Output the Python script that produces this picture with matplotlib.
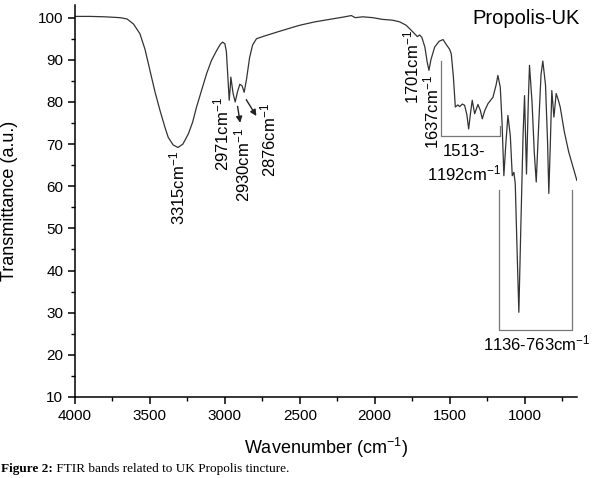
import matplotlib
matplotlib.use('Agg')
import matplotlib.pyplot as plt
from matplotlib.ticker import MultipleLocator

plt.rcParams['font.family'] = ['Liberation Sans', 'DejaVu Sans']
plt.rcParams['mathtext.default'] = 'regular'

# FTIR spectrum (wavenumber cm-1, transmittance a.u.)
wavenumber = [4000, 3900, 3800, 3700, 3653, 3610, 3567, 3533, 3500, 3467, 3433, 3400, 3378, 3345,
              3313, 3280, 3244, 3215, 3189, 3155, 3122, 3090, 3055, 3030, 3015, 3000, 2990,
              2980, 2971, 2965, 2960, 2945, 2931, 2915, 2900, 2885, 2871, 2855, 2835, 2815,
              2789, 2740, 2650, 2567, 2500, 2400, 2300, 2200, 2156, 2130, 2080, 2013, 1950,
              1880, 1833, 1790, 1745, 1715, 1700, 1685, 1665, 1650, 1638, 1625, 1600, 1570,
              1544, 1520, 1500, 1489, 1475, 1462, 1445, 1433, 1415, 1400, 1385, 1373, 1360,
              1349, 1333, 1320, 1311, 1295, 1282, 1265, 1244, 1211, 1190, 1178, 1162, 1150,
              1138, 1125, 1111, 1095, 1082, 1071, 1062, 1050, 1038, 1025, 1010, 1000, 987,
              975, 967, 950, 935, 922, 905, 890, 878, 860, 846, 838, 828, 818, 804, 789,
              775, 762, 735, 705, 680, 651]
transmittance = [100.3, 100.3, 100.2, 100.0, 99.7, 98.5, 96.2, 92.5, 87.5, 82.5, 78.0, 74.0, 71.6, 69.8,
                 69.2, 70.0, 72.4, 75.2, 78.8, 82.8, 86.7, 89.8, 92.2, 93.7, 94.2, 93.8, 92.0,
                 86.0, 80.4, 83.0, 85.9, 82.0, 80.0, 82.5, 84.2, 83.8, 82.3, 85.5, 90.5, 93.5,
                 95.0, 95.6, 96.6, 97.5, 98.2, 99.0, 99.6, 100.2, 100.5, 100.0, 100.2, 100.0, 99.6,
                 99.4, 99.0, 98.2, 96.6, 95.5, 95.9, 95.3, 93.0, 89.5, 87.5, 90.0, 93.0, 94.4,
                 94.8, 93.5, 92.5, 91.4, 86.0, 78.8, 79.3, 78.9, 79.5, 79.2, 77.0, 73.6, 77.5,
                 80.4, 77.2, 78.5, 79.4, 78.0, 76.0, 78.0, 79.6, 81.1, 84.0, 86.3, 83.5, 75.0,
                 62.5, 70.0, 76.8, 72.0, 62.5, 63.3, 60.6, 45.0, 30.1, 50.0, 72.0, 81.5, 62.9,
                 80.0, 88.7, 80.0, 68.0, 61.0, 75.0, 86.5, 89.7, 84.0, 70.0, 58.3, 70.0, 82.7, 76.4, 82.0,
                 80.5, 78.8, 73.0, 68.1, 65.0, 61.4]

fig = plt.figure(figsize=(5.93, 4.78), dpi=100)
ax = fig.add_axes([0.1265, 0.1695, 0.8465, 0.82])
ax.plot(wavenumber, transmittance, color='#333333', lw=0.9)

ax.set_xlim(4000, 650)
ax.set_ylim(10, 103)
ax.xaxis.set_major_locator(MultipleLocator(500))
ax.xaxis.set_minor_locator(MultipleLocator(250))
ax.yaxis.set_major_locator(MultipleLocator(10))
ax.yaxis.set_minor_locator(MultipleLocator(5))
ax.set_yticks(range(10, 101, 10))
ax.spines['top'].set_visible(False)
ax.spines['right'].set_visible(False)
for s in ['left', 'bottom']:
    ax.spines[s].set_linewidth(1.1)
ax.tick_params(which='major', direction='out', length=5, width=1.1, labelsize=11)
ax.tick_params(which='minor', direction='out', length=3, width=1.0)

ax.set_xlabel('Wavenumber (cm$^{-1}$)', fontsize=13)
ax.set_ylabel('Transmittance (a.u.)', fontsize=13)
ax.xaxis.set_label_coords(0.5, -0.1)
ax.yaxis.set_label_coords(-0.113, 0.5)

# band annotations
fs = 12
ax.text(3315, 59.5, '3315cm$^{-1}$', rotation=90, ha='center', va='center', fontsize=fs)
ax.text(3022, 72.3, '2971cm$^{-1}$', rotation=90, ha='center', va='center', fontsize=fs)
ax.text(2882, 65.1, '2930cm$^{-1}$', rotation=90, ha='center', va='center', fontsize=fs)
ax.text(2711, 70.9, '2876cm$^{-1}$', rotation=90, ha='center', va='center', fontsize=fs)
ax.annotate('', xy=(2895, 74.4), xytext=(2918, 79.6),
            arrowprops=dict(arrowstyle='-|>', color='#222222', lw=1.0, mutation_scale=9))
ax.annotate('', xy=(2780, 76.1), xytext=(2867, 81.1),
            arrowprops=dict(arrowstyle='-|>', color='#222222', lw=1.0, mutation_scale=9))
ax.text(1756, 88.3, '1701cm$^{-1}$', rotation=90, ha='center', va='center', fontsize=fs)
ax.text(1622, 77.5, '1637cm$^{-1}$', rotation=90, ha='center', va='center', fontsize=fs)
ax.text(1405, 65.3, '1513-\n1192cm$^{-1}$', ha='center', va='center', fontsize=fs,
        linespacing=1.25)
ax.text(917, 22.6, '1136-763cm$^{-1}$', ha='center', va='center', fontsize=fs)
ax.text(993, 99.8, 'Propolis-UK', ha='center', va='center', fontsize=14.5)

# brackets
ax.plot([1556, 1556, 1167, 1167], [89.8, 72.0, 72.0, 74.2], color='#777777', lw=0.9)
ax.plot([1171, 1171, 683, 683], [59.0, 25.9, 25.9, 59.0], color='#777777', lw=0.9)

cap = fig.text(0.002, 0.012, 'Figure 2:', fontsize=9.5, family='Liberation Serif',
               fontweight='bold', va='baseline')
fig.text(0, 0, ' FTIR bands related to UK Propolis tincture.', fontsize=9.5,
         family='Liberation Serif', va='baseline',
         transform=matplotlib.transforms.offset_copy(fig.transFigure, fig=fig, x=0, y=0))
fig.canvas.draw()
bb = cap.get_window_extent()
fig.texts[-1].set_position((bb.x1 / fig.bbox.width, 0.012))

fig.savefig('out.png', dpi=100)
